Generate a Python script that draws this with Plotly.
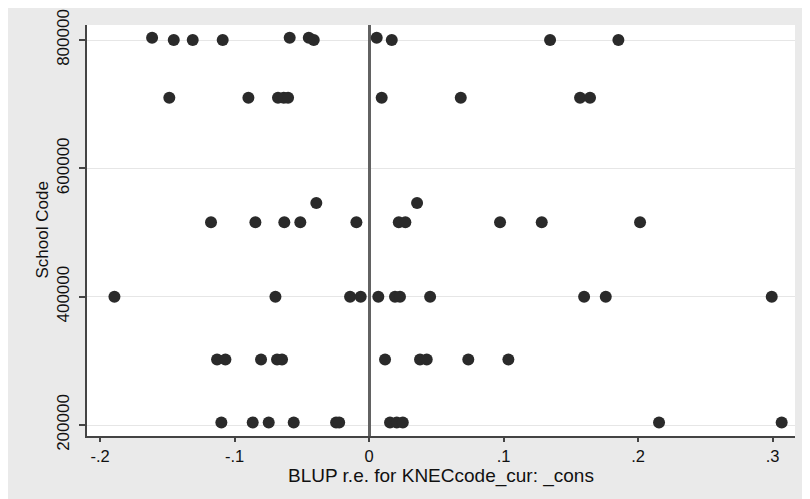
import plotly.graph_objects as go

# BLUP random effects (x) by school code (y)
school_code = (
    [803600] * 4
    + [800000] * 7
    + [710000] * 9
    + [546000] * 2
    + [516000] * 10
    + [400000] * 11
    + [302000] * 10
    + [204000] * 11
)
blup_re = (
    [-0.1613, -0.0590, -0.0448, 0.0057]
    + [-0.1452, -0.1311, -0.1088, -0.0411, 0.0169, 0.1346, 0.1854]
    + [-0.1485, -0.0897, -0.0677, -0.0634, -0.0602, 0.0094, 0.0682, 0.1569, 0.1643]
    + [-0.0392, 0.0357]
    + [-0.1175, -0.0845, -0.0630, -0.0511, -0.0094, 0.0221, 0.0270, 0.0974, 0.1284, 0.2015]
    + [-0.1893, -0.0696, -0.0141, -0.0062, 0.0069, 0.0193, 0.0230, 0.0454, 0.1599, 0.1760, 0.2994]
    + [-0.1130, -0.1068, -0.0803, -0.0684, -0.0647, 0.0119, 0.0379, 0.0429, 0.0738, 0.1036]
    + [-0.1098, -0.0865, -0.0746, -0.0560, -0.0245, -0.0222, 0.0156, 0.0206, 0.0251, 0.2156, 0.3068]
)

x_tickvals = [-0.2, -0.1, 0, 0.1, 0.2, 0.3]
x_ticktext = ["-.2", "-.1", "0", ".1", ".2", ".3"]
y_tickvals = [200000, 400000, 600000, 800000]
y_ticktext = ["200000", "400000", "600000", "800000"]

x_title = "BLUP r.e. for KNECcode_cur: _cons"
y_title = "School Code"

FONT = "Liberation Sans, Arial, sans-serif"
GRAY = "#eaeaea"

fig = go.Figure(
    go.Scatter(
        x=blup_re,
        y=school_code,
        mode="markers",
        marker=dict(size=12, color="#2a2a2a", line=dict(width=0)),
        showlegend=False,
    )
)

W, H = 802, 491
ml, mr, mt, mb = 79, 15, 17, 63

fig.update_layout(
    width=W,
    height=H,
    margin=dict(l=ml, r=mr, t=mt, b=mb, autoexpand=False),
    paper_bgcolor=GRAY,
    plot_bgcolor="white",
    font=dict(family=FONT, color="#111111", size=17),
    xaxis=dict(
        range=[-0.2097, 0.3167],
        tickvals=x_tickvals,
        ticktext=x_ticktext,
        ticks="outside",
        ticklen=4,
        tickwidth=1.5,
        tickcolor="#444444",
        showline=True,
        linecolor="#444444",
        linewidth=2,
        showgrid=False,
        zeroline=True,
        zerolinecolor="#626262",
        zerolinewidth=2.5,
        tickfont=dict(size=16.5),
        ticklabelstandoff=0,
    ),
    yaxis=dict(
        range=[182900, 823400],
        tickvals=y_tickvals,
        ticktext=y_ticktext,
        tickangle=-90,
        ticks="outside",
        ticklen=6,
        tickwidth=1.5,
        tickcolor="#444444",
        showline=True,
        linecolor="#444444",
        linewidth=2,
        showgrid=True,
        gridcolor="#e6e6e6",
        gridwidth=1,
        zeroline=False,
        tickfont=dict(size=17),
        ticklabelstandoff=3,
    ),
    annotations=[
        dict(text=x_title, xref="paper", yref="paper", x=0.5, y=0,
             xanchor="center", yanchor="middle", yshift=-40, showarrow=False,
             font=dict(size=19)),
        dict(text=y_title, xref="paper", yref="paper", x=0, y=0.5,
             xanchor="center", yanchor="middle", xshift=-45, textangle=-90,
             showarrow=False, font=dict(size=17)),
    ],
)

fig.write_html("out.html")
